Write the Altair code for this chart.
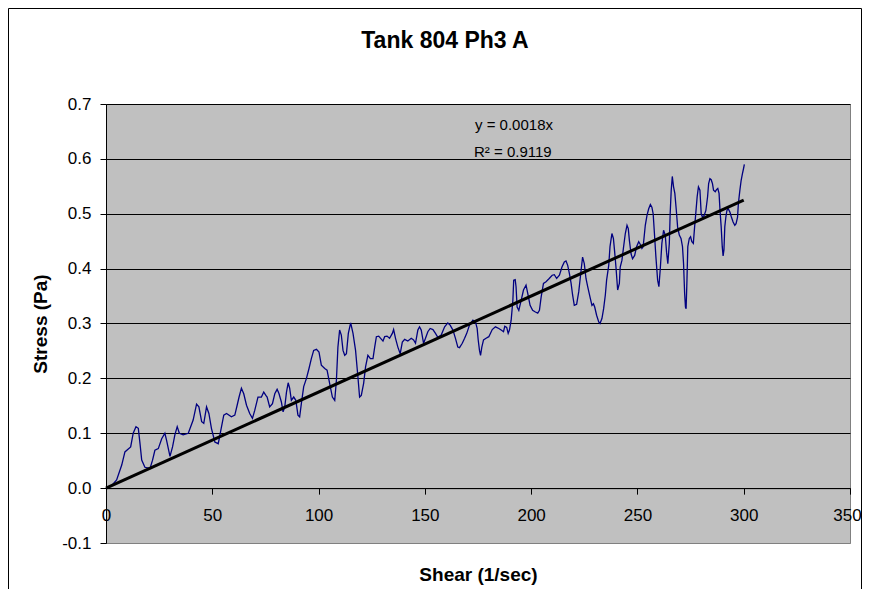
import altair as alt
import pandas as pd

# ---------------- data ----------------
shear = [0, 2.5, 5.0, 7.4, 8.9, 11.6, 12.8, 14.1, 15.2, 16.0, 16.8, 18.3, 20.7, 21.9, 23.0, 24.6,
         26.2, 27.7, 28.5, 30.1, 31.3, 32.4, 33.5, 34.5, 36.3, 38.7, 41.0, 42.6, 43.7, 45.0, 46.0,
         47.3, 48.4, 49.6, 51.2, 52.8, 53.9, 55.4, 56.7, 59.0, 60.6, 61.7, 62.6, 63.7, 64.8, 66.1,
         67.6, 68.9, 70.0, 71.5, 73.1, 74.2, 75.2, 75.8, 77.0, 78.3, 79.4, 80.5, 81.4, 82.5, 83.3,
         84.1, 84.9, 85.7, 86.4, 87.2, 88.3, 89.3, 90.3, 91.1, 91.9, 93.0, 94.3, 95.5, 96.6, 97.7,
         99.0, 100.2, 101.3, 102.9, 104.0, 105.2, 106.5, 107.6, 108.4, 109.1, 109.9, 110.7, 111.5,
         112.3, 113.1, 114.0, 115.1, 116.2, 117.4, 118.5, 119.3, 120.1, 121.2, 122.1, 123.2, 124.4,
         125.6, 126.4, 127.2, 128.3, 129.2, 130.3, 131.1, 132.2, 133.4, 134.7, 135.3, 136.2, 137.3,
         138.4, 139.4, 140.5, 142.0, 143.6, 144.7, 145.6, 146.7, 147.5, 148.3, 149.4, 150.3, 151.4,
         152.5, 153.8, 155.0, 156.1, 157.7, 159.3, 160.8, 161.9, 163.2, 164.4, 165.5, 166.3, 167.6,
         168.7, 169.7, 171.0, 172.6, 173.8, 174.6, 175.1, 175.7, 176.2, 176.8, 177.6, 178.8, 180.1,
         181.7, 183.2, 184.8, 185.9, 187.0, 187.6, 188.5, 189.2, 189.8, 190.6, 191.4, 191.8, 192.5,
         192.9, 193.4, 194.2, 195.3, 196.4, 197.6, 198.4, 199.5, 200.7, 202.0, 203.1, 203.9, 204.7,
         205.8, 207.0, 208.5, 209.9, 210.9, 212.0, 213.3, 214.5, 215.6, 216.4, 217.2, 218.0, 218.8,
         219.5, 220.3, 221.4, 222.4, 223.5, 224.2, 225.0, 225.8, 226.6, 227.7, 228.6, 229.3, 229.9,
         230.8, 231.8, 232.4, 233.3, 234.1, 234.9, 235.5, 236.5, 237.1, 238.0, 238.7, 239.3, 239.9,
         240.7, 241.5, 241.9, 242.7, 243.4, 244.3, 245.1, 245.7, 246.2, 247.0, 247.7, 248.7, 249.6,
         250.6, 251.5, 252.1, 252.7, 253.7, 254.5, 255.3, 256.1, 256.8, 257.4, 257.9, 258.7, 259.5,
         260.1, 260.7, 261.5, 262.3, 263.1, 263.7, 264.3, 265.0, 265.4, 265.9, 266.4, 267.0, 267.6,
         268.3, 268.9, 269.7, 270.5, 271.2, 271.7, 272.2, 272.6, 272.9, 273.3, 273.7, 274.4, 275.0,
         275.6, 276.3, 276.9, 277.5, 278.1, 278.7, 279.4, 280.0, 280.6, 281.4, 282.2, 283.0, 283.5,
         284.1, 284.7, 285.3, 285.8, 286.6, 287.2, 287.8, 288.4, 288.9, 289.4, 289.9, 290.3, 290.7,
         291.1, 291.6, 292.1, 292.7, 293.5, 294.2, 295.0, 295.8, 296.4, 297.1, 297.5, 298.2, 298.8,
         299.4, 299.9, 300.3]

stress = [0.0, 0.004, 0.015, 0.042, 0.066, 0.075, 0.100, 0.112, 0.109, 0.081, 0.051, 0.038, 0.036,
          0.051, 0.069, 0.072, 0.090, 0.100, 0.087, 0.058, 0.075, 0.097, 0.112, 0.100, 0.097, 0.100,
          0.124, 0.153, 0.148, 0.121, 0.118, 0.148, 0.136, 0.109, 0.084, 0.081, 0.103, 0.133, 0.136,
          0.130, 0.133, 0.151, 0.166, 0.182, 0.172, 0.151, 0.136, 0.127, 0.142, 0.166, 0.166, 0.175,
          0.169, 0.166, 0.148, 0.154, 0.172, 0.180, 0.172, 0.157, 0.139, 0.148, 0.175, 0.192, 0.182,
          0.160, 0.166, 0.160, 0.133, 0.130, 0.154, 0.185, 0.200, 0.218, 0.236, 0.251, 0.253, 0.248,
          0.224, 0.218, 0.215, 0.191, 0.166, 0.160, 0.197, 0.257, 0.288, 0.279, 0.251, 0.242, 0.245,
          0.282, 0.301, 0.282, 0.251, 0.203, 0.166, 0.169, 0.191, 0.221, 0.242, 0.236, 0.236, 0.257,
          0.276, 0.277, 0.273, 0.268, 0.276, 0.277, 0.273, 0.282, 0.289, 0.273, 0.257, 0.245, 0.266,
          0.271, 0.268, 0.273, 0.270, 0.264, 0.288, 0.294, 0.288, 0.264, 0.273, 0.285, 0.291, 0.289,
          0.282, 0.275, 0.279, 0.294, 0.301, 0.297, 0.288, 0.273, 0.257, 0.256, 0.264, 0.273, 0.282,
          0.297, 0.306, 0.303, 0.291, 0.270, 0.251, 0.242, 0.257, 0.270, 0.273, 0.276, 0.289, 0.294,
          0.291, 0.288, 0.285, 0.295, 0.293, 0.282, 0.288, 0.306, 0.342, 0.379, 0.380, 0.367, 0.330,
          0.324, 0.342, 0.361, 0.370, 0.355, 0.333, 0.324, 0.321, 0.319, 0.324, 0.348, 0.373, 0.376,
          0.382, 0.388, 0.389, 0.382, 0.388, 0.403, 0.412, 0.414, 0.406, 0.391, 0.373, 0.352, 0.333,
          0.335, 0.358, 0.397, 0.421, 0.409, 0.382, 0.367, 0.348, 0.333, 0.336, 0.330, 0.315, 0.303,
          0.300, 0.309, 0.327, 0.352, 0.379, 0.406, 0.440, 0.464, 0.455, 0.430, 0.403, 0.361, 0.373,
          0.403, 0.415, 0.437, 0.464, 0.479, 0.473, 0.452, 0.427, 0.418, 0.424, 0.440, 0.449, 0.443,
          0.437, 0.440, 0.479, 0.497, 0.509, 0.517, 0.512, 0.500, 0.470, 0.421, 0.379, 0.367, 0.397,
          0.446, 0.470, 0.461, 0.430, 0.409, 0.446, 0.500, 0.543, 0.568, 0.549, 0.537, 0.506, 0.476,
          0.461, 0.455, 0.440, 0.409, 0.355, 0.330, 0.327, 0.379, 0.440, 0.455, 0.458, 0.449, 0.446,
          0.476, 0.503, 0.531, 0.549, 0.543, 0.500, 0.494, 0.497, 0.506, 0.531, 0.555, 0.564, 0.562,
          0.555, 0.543, 0.540, 0.544, 0.546, 0.537, 0.503, 0.476, 0.440, 0.423, 0.434, 0.476, 0.494,
          0.506, 0.509, 0.503, 0.494, 0.485, 0.479, 0.482, 0.494, 0.519, 0.543, 0.561, 0.573, 0.582,
          0.590]

trend_x = [0, 300]
trend_y = [0.0, 0.525]

x_ticks = [0, 50, 100, 150, 200, 250, 300, 350]
y_ticks = [-0.1, 0.0, 0.1, 0.2, 0.3, 0.4, 0.5, 0.6, 0.7]

title_text = "Tank 804 Ph3 A"
eq_text = "y = 0.0018x"
r2_text = "R² = 0.9119"
x_title = "Shear (1/sec)"
y_title = "Stress (Pa)"

# ---------------- chart ----------------
FONT = "Liberation Sans"
W, H = 744, 439

df = pd.DataFrame({"shear": shear, "stress": stress, "i": list(range(len(shear)))})
tdf = pd.DataFrame({"shear": trend_x, "stress": trend_y})
one = pd.DataFrame({"a": [0]})

xs = alt.Scale(domain=[0, 350], nice=False, zero=False)
ys = alt.Scale(domain=[-0.1, 0.7], nice=False, zero=False)

x_axis = alt.Axis(
    values=x_ticks, format="d", offset=-H / 8, grid=False,
    domainColor="black", domainWidth=1, tickColor="black", tickSize=6, tickWidth=1,
    labelFont=FONT, labelFontSize=17, labelColor="black", labelPadding=13,
    labelOffset={"condition": {"test": "datum.value > 340", "value": -3}, "value": 0},
    labelOverlap=False, labelFlush=False, labelBound=False,
    title=x_title, titleFont=FONT, titleFontSize=19, titleFontWeight="bold",
    titleColor="black", titlePadding=42,
)
y_axis = alt.Axis(
    values=y_ticks, grid=True,
    gridColor={"condition": {"test": "datum.value < -0.05", "value": "#808080"}, "value": "#000000"},
    gridWidth=1, gridOpacity=1,
    domainColor="black", domainWidth=1, tickColor="black", tickSize=6, tickWidth=1,
    labelExpr="replace(format(datum.value, '.1f'), '\u2212', '-')",
    labelFont=FONT, labelFontSize=17, labelColor="black", labelPadding=9,
    labelOverlap=False, labelFlush=False, labelBound=False,
    title=y_title, titleFont=FONT, titleFontSize=19, titleFontWeight="bold",
    titleColor="black", titlePadding=11,
)

frame = alt.Chart(one).mark_rect(fill="transparent", stroke="black", strokeWidth=1).encode(
    x=alt.value(-97.5), x2=alt.value(755.5), y=alt.value(-95.5), y2=alt.value(540)
)

data_line = alt.Chart(df).mark_line(color="#000080", strokeWidth=1.3).encode(
    x=alt.X("shear:Q", scale=xs, axis=x_axis),
    y=alt.Y("stress:Q", scale=ys, axis=y_axis),
    order=alt.Order("i:Q"),
)

trend = alt.Chart(tdf).mark_line(color="black", strokeWidth=3).encode(
    x=alt.X("shear:Q", scale=xs),
    y=alt.Y("stress:Q", scale=ys),
)

eq = alt.Chart(one).mark_text(
    text=eq_text, font=FONT, fontSize=15, color="black", align="left", baseline="middle"
).encode(x=alt.value(369), y=alt.value(21))

r2 = alt.Chart(one).mark_text(
    text=r2_text, font=FONT, fontSize=15, color="black", align="left", baseline="middle"
).encode(x=alt.value(368), y=alt.value(48))

title = alt.Chart(one).mark_text(
    text=title_text, font=FONT, fontSize=23, fontWeight="bold", color="black",
    align="center", baseline="alphabetic"
).encode(x=alt.value(339), y=alt.value(-55.7))

chart = alt.layer(frame, data_line, trend, eq, r2, title).properties(
    width=W, height=H,
    autosize=alt.AutoSizeParams(type="none"),
    padding={"left": 98, "top": 96, "right": 12, "bottom": 46},
    background="white",
).configure_view(
    fill="#C0C0C0", stroke="#808080", strokeWidth=1
)

chart.save("out.html", embed_options={"renderer": "svg", "actions": False})
